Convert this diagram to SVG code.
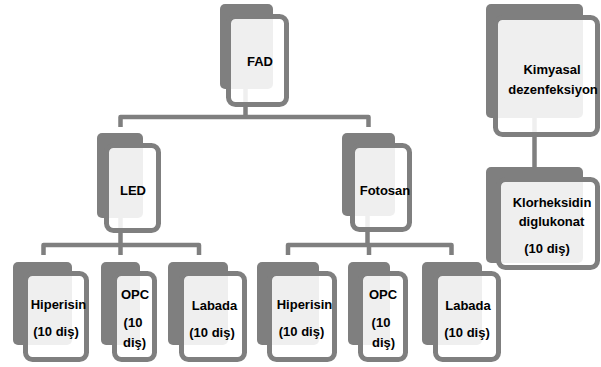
<svg xmlns="http://www.w3.org/2000/svg" width="601" height="367" viewBox="0 0 601 367">
  <style>
    .back { fill: #7f7f7f; }
    .front { fill: #ffffff; fill-opacity: 0.88; stroke: #7f7f7f; stroke-width: 5; }
    .conn { fill: none; stroke: #7f7f7f; stroke-width: 4.5; stroke-linejoin: round; }
    text { font-family: "Liberation Sans", Arial, sans-serif; font-weight: bold; font-size: 13px; fill: #000; text-anchor: middle; }
  </style>
  <rect width="601" height="367" fill="#ffffff"/>

  <!-- connectors (drawn beneath the nodes) -->
  <g id="connectors">
    <path class="conn" d="M245.5,89 V117"/>
    <path class="conn" d="M120.5,127 V117 H368.5 V127"/>
    <path class="conn" d="M120.5,218 V255"/>
    <path class="conn" d="M43.5,255 V245 H199 V255"/>
    <path class="conn" d="M367.5,216 V245"/>
    <path class="conn" d="M288,255 V245 H451.5 V255"/>
    <path class="conn" d="M369,245 V255"/>
    <path class="conn" d="M534.5,118 V167"/>
  </g>

  <g id="fad">
    <rect class="back" x="220" y="4" width="53" height="85" rx="5"/>
    <rect class="front" x="228.5" y="16.5" width="58" height="88" rx="7"/>
    <text x="260" y="66">FAD</text>
  </g>

  <g id="kimyasal">
    <rect class="back" x="486" y="4" width="97" height="114" rx="5"/>
    <rect class="front" x="495.5" y="17.5" width="102" height="117" rx="7"/>
    <text x="552" y="74">Kimyasal</text>
    <text x="553" y="94">dezenfeksiyon</text>
  </g>

  <g id="led">
    <rect class="back" x="97" y="133" width="46" height="85" rx="5"/>
    <rect class="front" x="106.5" y="145.5" width="52" height="85" rx="7"/>
    <text x="133" y="195">LED</text>
  </g>

  <g id="fotosan">
    <rect class="back" x="342" y="133" width="53" height="83" rx="5"/>
    <rect class="front" x="352.5" y="145.5" width="57" height="84" rx="7"/>
    <text x="385" y="195">Fotosan</text>
  </g>

  <g id="klorheksidin">
    <rect class="back" x="486" y="167" width="97" height="96" rx="5"/>
    <rect class="front" x="498.5" y="179.5" width="99" height="88" rx="7"/>
    <text x="552" y="207">Klorheksidin</text>
    <text x="551.5" y="226">diglukonat</text>
    <text x="547" y="253">(10 diş)</text>
  </g>

  <g id="led-hiperisin">
    <rect class="back" x="13" y="262" width="59" height="83" rx="5"/>
    <rect class="front" x="25.5" y="273.5" width="61" height="86" rx="7"/>
    <text x="58.5" y="309">Hiperisin</text>
    <text x="56" y="336">(10 diş)</text>
  </g>

  <g id="led-opc">
    <rect class="back" x="101" y="262" width="39" height="83" rx="5"/>
    <rect class="front" x="114.5" y="273.5" width="40" height="86" rx="7"/>
    <text x="135" y="299">OPC</text>
    <text x="133" y="327">(10</text>
    <text x="134.5" y="347">diş)</text>
  </g>

  <g id="led-labada">
    <rect class="back" x="168" y="262" width="60" height="83" rx="5"/>
    <rect class="front" x="181.5" y="273.5" width="63" height="86" rx="7"/>
    <text x="214.5" y="310">Labada</text>
    <text x="212" y="337">(10 diş)</text>
  </g>

  <g id="fotosan-hiperisin">
    <rect class="back" x="257" y="262" width="62" height="83" rx="5"/>
    <rect class="front" x="269.5" y="273.5" width="65" height="86" rx="7"/>
    <text x="304.5" y="309">Hiperisin</text>
    <text x="301.5" y="336">(10 diş)</text>
  </g>

  <g id="fotosan-opc">
    <rect class="back" x="348" y="262" width="42" height="83" rx="5"/>
    <rect class="front" x="360.5" y="273.5" width="45" height="86" rx="7"/>
    <text x="383" y="299">OPC</text>
    <text x="381" y="327">(10</text>
    <text x="383.5" y="347">diş)</text>
  </g>

  <g id="fotosan-labada">
    <rect class="back" x="422" y="262" width="60" height="83" rx="5"/>
    <rect class="front" x="435.5" y="273.5" width="63" height="86" rx="7"/>
    <text x="468" y="310">Labada</text>
    <text x="467" y="337">(10 diş)</text>
  </g>
</svg>
